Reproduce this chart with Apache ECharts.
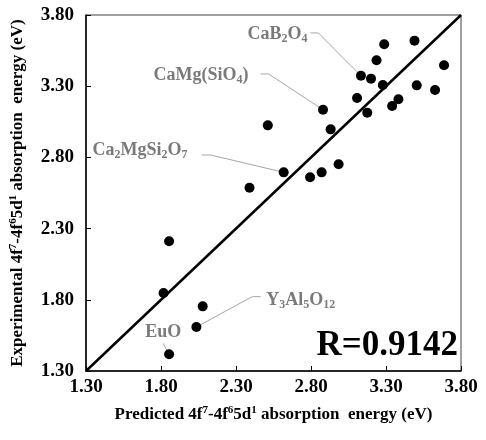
<!DOCTYPE html>
<html>
<head>
<meta charset="utf-8">
<script src="https://cdn.jsdelivr.net/npm/echarts@6/dist/echarts.min.js"></script>
<style>html,body{margin:0;padding:0;background:#fff}#c{width:486px;height:440px}</style>
</head>
<body>
<div id="c"></div>
<script>
// Predicted (x) and experimental (y) absorption energies, eV
const predicted = [3.288, 3.490, 3.237, 3.133, 3.200, 3.279, 3.687, 3.505, 3.627, 3.107, 3.383, 3.341, 3.175,
                   2.880, 2.931, 2.512, 2.618, 2.794, 2.871, 2.984, 2.390, 1.854, 1.817, 2.078, 2.036, 1.854];
const experimental = [3.594, 3.620, 3.482, 3.374, 3.353, 3.308, 3.447, 3.306, 3.273, 3.217, 3.208, 3.161, 3.114,
                   3.135, 2.997, 3.025, 2.695, 2.660, 2.695, 2.752, 2.587, 2.211, 1.848, 1.754, 1.609, 1.417];
const tickValues = [1.3, 1.8, 2.3, 2.8, 3.3, 3.8];
const axisMin = 1.3, axisMax = 3.8;
const identityLine = [[1.3, 1.3], [3.8, 3.8]];
const rValue = 'R=0.9142';

// Annotations: rich label, label anchor [x,y], alignment, leader path (data coords)
const annNames = ['{b|CaB}{sub|2}{b|O}{sub|4}', '{b|CaMg(SiO}{sub|4}{b|)}', '{b|Ca}{sub|2}{b|MgSi}{sub|2}{b|O}{sub|7}',
                  '{b|Y}{sub|3}{b|Al}{sub|5}{b|O}{sub|12}', '{b|EuO}'];
const annAnchor = [[2.776, 3.667], [2.384, 3.379], [1.976, 2.852], [2.501, 1.799], [1.815, 1.569]];
const annPos = ['left', 'left', 'left', 'right', 'inside'];
const annPaths = [
  [[2.796, 3.674], [2.849, 3.674], [3.133, 3.374]],
  [[2.464, 3.386], [2.517, 3.386], [2.880, 3.135]],
  [[2.071, 2.817], [2.131, 2.817], [2.618, 2.695]],
  [[2.464, 1.822], [2.408, 1.822], [2.036, 1.609]],
  [[1.814, 1.495], [1.843, 1.436]]
];

const F = 'Liberation Serif, Times New Roman, serif';
const gray = '#595959';
const richLab = {
  b: {fontFamily: F, fontWeight: 'bold', fontSize: 18, color: gray, lineHeight: 21},
  sub: {fontFamily: F, fontWeight: 'bold', fontSize: 12, color: gray, lineHeight: 13, verticalAlign: 'bottom'}
};
const richTitle = {
  b: {fontFamily: F, fontWeight: 'bold', fontSize: 17, color: '#000', lineHeight: 20},
  sup: {fontFamily: F, fontWeight: 'bold', fontSize: 11, color: '#000', lineHeight: 10, verticalAlign: 'top'}
};
const titleStr = '{b|4f}{sup|7}{b|-4f}{sup|6}{b|5d}{sup|1}{b| absorption  energy (eV)}';

const series = [];
series.push({
  type: 'line', data: identityLine, symbol: 'none', silent: true, z: 2,
  lineStyle: {color: '#000', width: 2.5}
});
annPaths.forEach(p => series.push({
  type: 'line', data: p, symbol: 'none', silent: true, z: 3,
  lineStyle: {color: '#a6a6a6', width: 1}
}));
series.push({
  type: 'scatter', z: 5, symbolSize: 10,
  itemStyle: {color: '#000', opacity: 1},
  data: predicted.map((x, i) => [x, experimental[i]])
});
series.push({
  type: 'scatter', z: 6, symbolSize: 0, silent: true,
  data: annAnchor.map((a, i) => ({
    value: a,
    label: {show: true, position: annPos[i], distance: 0, formatter: annNames[i], rich: richLab}
  }))
});

const chart = echarts.init(document.getElementById('c'));
chart.setOption({
  animation: false,
  title: {
    text: rValue, right: 28, top: 328, padding: 0,
    textStyle: {fontFamily: F, fontWeight: 'bold', fontSize: 35, color: '#000'}
  },
  grid: {left: 85, right: 25, top: 15, bottom: 69, show: true, borderColor: '#404040', borderWidth: 1},
  xAxis: {
    type: 'value', min: axisMin, max: axisMax,
    name: '{b|Predicted }' + titleStr, nameLocation: 'middle', nameGap: 34,
    nameTextStyle: {rich: richTitle},
    axisLine: {show: true, lineStyle: {color: '#000', width: 1.5}},
    axisTick: {show: true, inside: true, length: 5, customValues: tickValues, lineStyle: {color: '#000'}},
    axisLabel: {customValues: tickValues, formatter: v => v.toFixed(2), margin: 7,
      fontFamily: F, fontWeight: 'bold', fontSize: 19, color: '#000'},
    splitLine: {show: false}
  },
  yAxis: {
    type: 'value', min: axisMin, max: axisMax,
    name: '{b|Experimental }' + titleStr, nameLocation: 'middle', nameGap: 58, nameRotate: 90,
    nameTextStyle: {rich: richTitle},
    axisLine: {show: true, lineStyle: {color: '#000', width: 1.5}},
    axisTick: {show: true, inside: true, length: 5, customValues: tickValues, lineStyle: {color: '#000'}},
    axisLabel: {customValues: tickValues, formatter: v => v.toFixed(2), margin: 12,
      fontFamily: F, fontWeight: 'bold', fontSize: 19, color: '#000'},
    splitLine: {show: false}
  },
  series: series
});
</script>
</body>
</html>
